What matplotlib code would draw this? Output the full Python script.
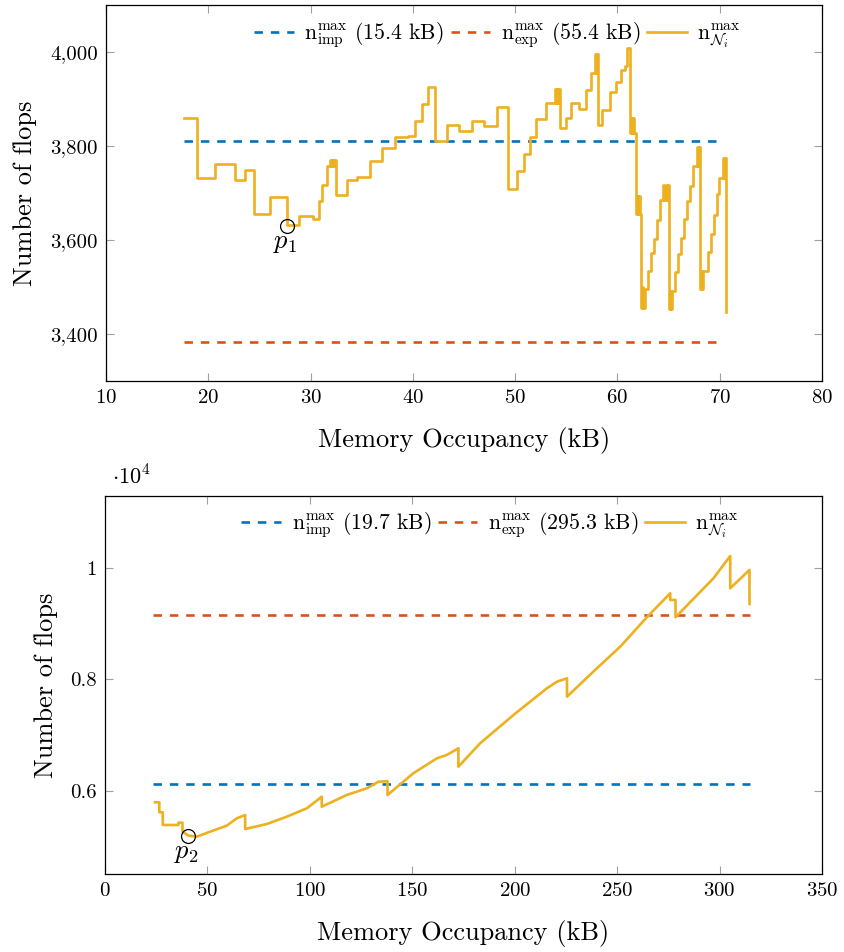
import matplotlib
matplotlib.use('Agg')
import matplotlib.pyplot as plt
from matplotlib.ticker import FuncFormatter

plt.rcParams['font.family'] = 'serif'
plt.rcParams['font.serif'] = ['cmr10']
plt.rcParams['mathtext.fontset'] = 'cm'
plt.rcParams['axes.formatter.use_mathtext'] = True
plt.rcParams['axes.unicode_minus'] = False

BLUE = '#0072BD'
RED = '#D95319'
ORANGE = '#EDB120'

# ---- first case: memory (kB) vs flops, step curve ----
mem1 = [17.6, 18.9, 20.7, 22.6, 23.6, 24.5, 26.0, 27.7, 28.9, 30.2, 30.8, 31.1, 31.6,
        31.9, 32.0, 32.1, 32.2, 32.3, 32.5, 33.6, 34.5, 35.8, 37.0, 38.25, 39.55,
        40.2, 40.9, 41.5, 42.2, 43.3, 44.5, 45.8, 47.0, 48.2, 49.3, 50.15, 50.9,
        51.5, 52.0, 53.0, 53.9, 54.0, 54.1, 54.2, 54.3, 54.4, 54.95, 55.45, 56.2,
        56.9, 57.4, 57.8, 57.9, 58.0, 58.1, 58.45, 59.25, 59.9, 60.35, 60.75, 60.9,
        61.2, 61.3, 61.4, 61.5, 61.6, 61.8, 61.9, 62.0, 62.1, 62.2, 62.3, 62.4,
        62.5, 62.65, 63.0, 63.3, 63.6, 63.9, 64.2, 64.5, 64.6, 64.7, 64.8, 64.9,
        65.0, 65.1, 65.2, 65.3, 65.6, 65.9, 66.2, 66.5, 66.8, 67.1, 67.4, 67.8,
        67.9, 68.0, 68.1, 68.2, 68.3, 68.4, 68.55, 68.9, 69.1, 69.4, 69.7, 69.95,
        70.3, 70.4, 70.5, 70.6]
flops1 = [3860, 3731, 3762, 3727, 3748, 3656, 3692, 3631, 3651, 3645, 3683, 3718, 3757,
          3771, 3757, 3771, 3757, 3771, 3695, 3727, 3734, 3769, 3796, 3820, 3822,
          3854, 3889, 3926, 3810, 3844, 3832, 3854, 3842, 3884, 3709, 3746, 3784,
          3819, 3857, 3892, 3921, 3892, 3921, 3892, 3921, 3838, 3859, 3892, 3879,
          3919, 3956, 3996, 3956, 3996, 3845, 3877, 3916, 3937, 3962, 3970, 4008,
          3828, 3859, 3828, 3859, 3828, 3656, 3693, 3656, 3693, 3656, 3456, 3499,
          3456, 3495, 3534, 3572, 3603, 3642, 3685, 3716, 3685, 3716, 3685, 3716,
          3453, 3492, 3453, 3492, 3531, 3570, 3605, 3644, 3683, 3714, 3757, 3798,
          3757, 3798, 3495, 3534, 3495, 3534, 3534, 3574, 3612, 3654, 3697, 3732,
          3775, 3732, 3775, 3447]
n_imp1 = 3810
n_exp1 = 3382
p1 = (27.7, 3629)

# ---- second case ----
mem2 = [24.4, 26.5, 26.5, 28.2, 28.2, 35.8, 35.8, 37.8, 37.8, 40.7, 44.8, 51.3, 59.4,
        64.3, 68.4, 68.4, 79.0, 88.7, 98.5, 105.8, 105.8, 118.0, 127.8, 133.5, 137.9,
        137.9, 150.5, 162.0, 166.8, 172.5, 172.5, 183.1, 199.4, 215.7, 220.6, 225.5,
        225.5, 240.1, 251.5, 264.5, 275.9, 275.9, 278.5, 278.5, 297.0, 305.2, 305.2,
        314.6, 314.6]
flops2 = [5790, 5790, 5610, 5610, 5382, 5382, 5424, 5424, 5262, 5190, 5172, 5262, 5370,
          5502, 5562, 5310, 5400, 5531, 5682, 5891, 5711, 5922, 6042, 6161, 6170,
          5922, 6312, 6582, 6641, 6762, 6431, 6852, 7361, 7841, 7960, 8021,
          7690, 8201, 8590, 9119, 9550, 9430, 9430, 9119, 9820, 10221, 9640,
          9970, 9358]
n_imp2 = 6115
n_exp2 = 9155
p2 = (40.7, 5190)

fig = plt.figure(figsize=(8.45, 9.52), dpi=100)
ax1 = fig.add_axes([0.1254, 0.5998, 0.8474, 0.3949])
ax2 = fig.add_axes([0.1243, 0.0819, 0.8485, 0.3971])

dash = (3.2, 3.0)
lw = 1.9

def style(ax):
    ax.tick_params(direction='in', top=True, right=True, length=6, width=0.8,
                   color='#a0a0a0', labelsize=15, pad=6)
    for s in ax.spines.values():
        s.set_linewidth(0.9)

# top
ax1.plot([mem1[0], 70.3], [n_imp1, n_imp1], color=BLUE, lw=lw, dashes=dash,
         label=r'$\mathrm{n}_{\mathrm{imp}}^{\max}$ (15.4 kB)')
ax1.plot([mem1[0], 70.3], [n_exp1, n_exp1], color=RED, lw=lw, dashes=dash,
         label=r'$\mathrm{n}_{\mathrm{exp}}^{\max}$ (55.4 kB)')
ax1.step(mem1, flops1, where='post', color=ORANGE, lw=lw,
         label=r'$\mathrm{n}_{\mathcal{N}_i}^{\max}$')
ax1.plot(*p1, 'o', mfc='none', mec='black', ms=10, mew=0.9)
ax1.text(p1[0] - 0.2, p1[1] - 36, '$p_1$', ha='center', va='center', fontsize=19)
ax1.set_xlim(10, 80)
ax1.set_ylim(3300, 4100)
ax1.set_xticks(range(10, 81, 10))
ax1.set_yticks([3400, 3600, 3800, 4000])
ax1.yaxis.set_major_formatter(FuncFormatter(lambda v, p: '{:,.0f}'.format(v)))
ax1.set_xlabel('Memory Occupancy (kB)', fontsize=19, labelpad=14)
ax1.set_ylabel('Number of flops', fontsize=19, labelpad=9)
style(ax1)
ax1.legend(loc='center left', bbox_to_anchor=(0.195, 0.92), ncol=3, frameon=False,
           fontsize=15.7, handlelength=1.8, columnspacing=0.3, handletextpad=0.5,
           borderaxespad=0)

# bottom
ax2.plot([23.6, 315], [n_imp2, n_imp2], color=BLUE, lw=lw, dashes=dash,
         label=r'$\mathrm{n}_{\mathrm{imp}}^{\max}$ (19.7 kB)')
ax2.plot([23.6, 315], [n_exp2, n_exp2], color=RED, lw=lw, dashes=dash,
         label=r'$\mathrm{n}_{\mathrm{exp}}^{\max}$ (295.3 kB)')
ax2.plot(mem2, flops2, color=ORANGE, lw=lw,
         label=r'$\mathrm{n}_{\mathcal{N}_i}^{\max}$')
ax2.plot(*p2, 'o', mfc='none', mec='black', ms=10, mew=0.9)
ax2.text(p2[0] - 1.0, p2[1] - 310, '$p_2$', ha='center', va='center', fontsize=19)
ax2.set_xlim(0, 350)
ax2.set_ylim(4500, 11300)
ax2.set_xticks(range(0, 351, 50))
ax2.set_yticks([6000, 8000, 10000])
ax2.set_yticklabels(['0.6', '0.8', '1'])
ax2.text(0.01, 1.02, r'$\cdot10^4$', transform=ax2.transAxes, fontsize=16,
         ha='left', va='bottom')
ax2.set_xlabel('Memory Occupancy (kB)', fontsize=19, labelpad=14)
ax2.set_ylabel('Number of flops', fontsize=19, labelpad=9)
style(ax2)
ax2.legend(loc='center left', bbox_to_anchor=(0.178, 0.923), ncol=3, frameon=False,
           fontsize=15.7, handlelength=1.8, columnspacing=0.3, handletextpad=0.5,
           borderaxespad=0)

fig.savefig('out.png', dpi=100)
